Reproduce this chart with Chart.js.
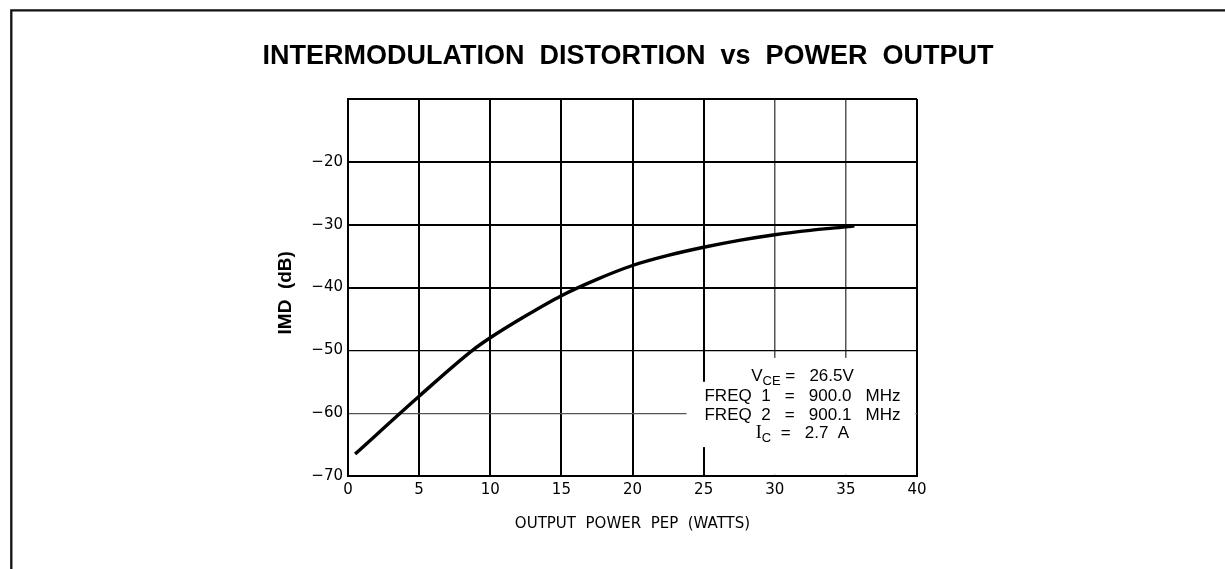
<!DOCTYPE html>
<html>
<head>
<meta charset="utf-8">
<title>Intermodulation Distortion vs Power Output</title>
<script src="https://cdn.jsdelivr.net/npm/chart.js@4.4.1/dist/chart.umd.min.js"></script>
<style>
  html, body { margin: 0; padding: 0; background: #fff; }
  #wrap { width: 1225px; height: 569px; position: relative; }
</style>
</head>
<body>
<div id="wrap"><canvas id="imdChart"></canvas></div>
<script>
// Curve (W PEP vs dB)
const powerOut = [0.5, 5, 8.75, 10, 12.5, 15, 17.5, 20, 22.5, 25, 27.5, 30, 32.5, 35, 35.6];
const imdDb = [-66.5, -57.3, -50, -48, -44.5, -41.3, -38.7, -36.5, -34.9, -33.6, -32.5, -31.6, -30.9, -30.35, -30.2];

const xTicks = [0, 5, 10, 15, 20, 25, 30, 35, 40];
const xTickLabels = ['0', '5', '10', '15', '20', '25', '30', '35', '40'];
const yTicks = [-70, -60, -50, -40, -30, -20, -10];
const yTickLabels = ['\u221270', '\u221260', '\u221250', '\u221240', '\u221230', '\u221220', ''];

// test conditions block, one row per line
const conditionLines = [
  [{ t: 'V' }, { t: 'CE', sub: true }, { t: ' =   26.5V' }],
  [{ t: 'FREQ  1   =   900.0   MHz' }],
  [{ t: 'FREQ  2   =   900.1   MHz' }],
  [{ t: 'I', serif: true }, { t: 'C', sub: true }, { t: '  =   2.7  A' }]
];
const noteCenterX = 31.95;
const noteRowsY = [-54.1, -57.3, -60.3, -63.15];
// white patches behind the text block: [x0, x1, y0, y1]
const noteMasks = [[23.8, 39.88, -55.0, -65.4], [25.25, 39.88, -51.2, -69.8]];

const noteFont = "'Liberation Sans', Arial, sans-serif";

function fontFor(s) {
  if (s.sub) return '13px ' + noteFont;
  if (s.serif) return '18px "Liberation Serif", serif';
  return '17px ' + noteFont;
}

const framePlugin = {
  id: 'frame',
  beforeDraw(chart) {
    const c = chart.ctx;
    c.save();
    c.fillStyle = '#fff';
    c.fillRect(0, 0, chart.width, chart.height);
    c.strokeStyle = '#111';
    c.lineWidth = 2.3;
    c.beginPath();
    c.moveTo(11.3, chart.height);
    c.lineTo(11.3, 10.4);
    c.lineTo(chart.width, 10.4);
    c.stroke();
    c.restore();
  }
};

const notePlugin = {
  id: 'note',
  beforeDatasetsDraw(chart) {
    const { ctx, scales: { x, y } } = chart;
    ctx.save();
    ctx.fillStyle = '#fff';
    noteMasks.forEach(m => {
      const x0 = x.getPixelForValue(m[0]), x1 = x.getPixelForValue(m[1]);
      const y0 = y.getPixelForValue(m[2]), y1 = y.getPixelForValue(m[3]);
      ctx.fillRect(x0, y0, x1 - x0, y1 - y0);
    });

    ctx.fillStyle = '#000';
    ctx.textBaseline = 'middle';
    conditionLines.forEach((segs, i) => {
      let w = 0;
      segs.forEach(s => { ctx.font = fontFor(s); w += ctx.measureText(s.t).width; });
      let cx = x.getPixelForValue(noteCenterX) - w / 2;
      const cy = y.getPixelForValue(noteRowsY[i]);
      segs.forEach(s => {
        ctx.font = fontFor(s);
        ctx.fillText(s.t, cx, cy + (s.sub ? 5 : 0));
        cx += ctx.measureText(s.t).width;
      });
    });
    ctx.restore();
  }
};

// heavier rules on the major lines, lighter ones elsewhere
function xGridWidth(c) {
  const v = c.tick && c.tick.value;
  return (v === 30 || v === 35) ? 1.5 : 2;
}
function xGridColor(c) {
  const v = c.tick && c.tick.value;
  return (v === 30 || v === 35) ? '#555' : '#000';
}
function yGridWidth(c) {
  const v = c.tick && c.tick.value;
  return (v === -50 || v === -60) ? 1.3 : 2;
}
function yGridColor(c) {
  const v = c.tick && c.tick.value;
  return v === -60 ? '#555' : '#000';
}

const tickFont = { family: "'DejaVu Sans', sans-serif", size: 15 };

new Chart(document.getElementById('imdChart'), {
  type: 'line',
  data: {
    datasets: [{
      label: 'IMD',
      data: powerOut.map((p, i) => ({ x: p, y: imdDb[i] })),
      borderColor: '#000',
      borderWidth: 3.4,
      pointRadius: 0,
      cubicInterpolationMode: 'monotone',
      fill: false
    }]
  },
  options: {
    responsive: true,
    maintainAspectRatio: false,
    animation: false,
    // left/right padding kept small so the full-width title centres over the plot
    layout: { padding: { left: 50, right: 19, top: 30, bottom: 33 } },
    plugins: {
      legend: { display: false },
      tooltip: { enabled: false },
      title: {
        display: true,
        text: 'INTERMODULATION  DISTORTION  vs  POWER  OUTPUT',
        color: '#000',
        font: { family: "'Liberation Sans', Arial, sans-serif", size: 27, weight: 'bold', lineHeight: 1.2 },
        padding: { top: 10.8, bottom: 25.8 }
      }
    },
    scales: {
      x: {
        type: 'linear',
        min: 0,
        max: 40,
        afterBuildTicks: s => { s.ticks = xTicks.map(v => ({ value: v })); },
        afterFit: s => { s.height = 60; },
        ticks: {
          autoSkip: false,
          maxRotation: 0,
          padding: 5,
          color: '#000',
          font: tickFont,
          callback: (v, i) => xTickLabels[i]
        },
        grid: { drawTicks: false, color: xGridColor, lineWidth: xGridWidth },
        border: { display: true, color: '#000', width: 2 },
        title: {
          display: true,
          text: 'OUTPUT  POWER  PEP  (WATTS)',
          color: '#000',
          font: { family: "'DejaVu Sans', sans-serif", size: 15, lineHeight: 1.2 },
          padding: { top: 0, bottom: 3 }
        }
      },
      y: {
        type: 'linear',
        min: -70,
        max: -10,
        afterBuildTicks: s => { s.ticks = yTicks.map(v => ({ value: v })); },
        afterFit: s => { s.width = 298; },
        ticks: {
          autoSkip: false,
          padding: 5,
          color: '#000',
          font: tickFont,
          callback: (v, i) => yTickLabels[i]
        },
        grid: { drawTicks: false, color: yGridColor, lineWidth: yGridWidth },
        border: { display: true, color: '#000', width: 2 },
        title: {
          display: true,
          text: 'IMD  (dB)  ',
          color: '#000',
          font: { family: "'Liberation Sans', Arial, sans-serif", size: 19, weight: 'bold', lineHeight: 1.2 },
          padding: { top: 224, bottom: 0 }
        }
      },
      // empty right-hand spacer that holds the plot's right edge in place
      yRight: {
        type: 'linear',
        position: 'right',
        min: -70,
        max: -10,
        afterFit: s => { s.width = 289; },
        ticks: { display: false },
        grid: { display: false },
        border: { display: false }
      }
    }
  },
  plugins: [framePlugin, notePlugin]
});
</script>
</body>
</html>
